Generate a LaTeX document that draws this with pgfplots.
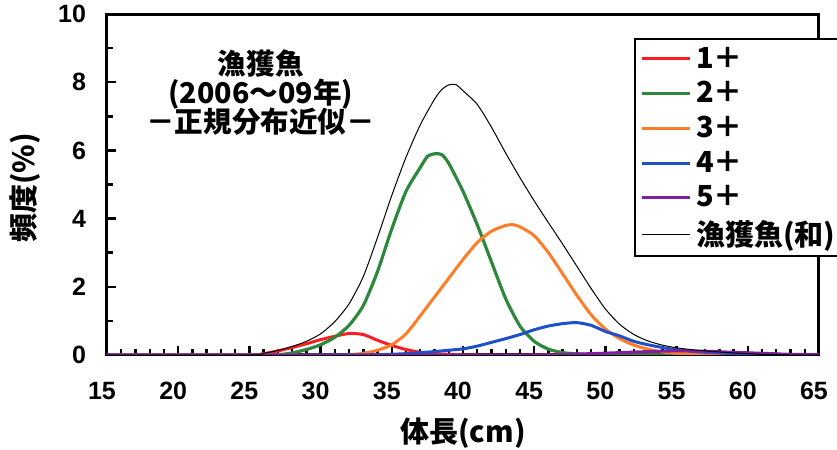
\documentclass[border=0pt]{standalone}
\usepackage{pgfplots}
\pgfplotsset{compat=1.18}
\usepackage{fontspec}
\setmainfont{Liberation Sans}
\newfontfamily\cjk{Noto Sans CJK JP}
\definecolor{cred}{RGB}{250,30,35}
\definecolor{cgreen}{RGB}{45,135,60}
\definecolor{corange}{RGB}{255,125,40}
\definecolor{cblue}{RGB}{30,80,200}
\definecolor{cpurple}{RGB}{130,30,160}
\begin{document}
\begin{tikzpicture}
\path[use as bounding box] (0,0) rectangle (418.5pt,225pt);
\begin{axis}[
  at={(53.5pt,47.5pt)}, anchor=south west,
  scale only axis, width=356pt, height=170.5pt,
  xmin=15, xmax=65, ymin=0, ymax=10,
  xtick={15,20,...,65}, ytick={0,2,...,10},
  minor x tick num=4, minor y tick num=1,
  tick align=inside, xtick pos=bottom, ytick pos=left,
  major tick length=4.5pt, minor tick length=3pt,
  tick style={line width=1.2pt, black},
  axis line style={line width=1.5pt},
  /pgf/number format/assume math mode=true,
  ticklabel style={font=\fontsize{12.5}{14}\selectfont\bfseries},
  xticklabel style={yshift=-10pt, xshift=-2.5pt},
  yticklabel style={xshift=-7pt},
  xlabel={\cjk\bfseries\fontsize{14.5}{16}\selectfont 体長(cm)},
  ylabel={\cjk\bfseries\fontsize{14.5}{16}\selectfont 頻度(\%)},
  every axis x label/.style={at={(rel axis cs:0.5,0)}, yshift=-39pt, anchor=center},
  every axis y label/.style={at={(rel axis cs:0,0.49)}, xshift=-41pt, rotate=90, anchor=center},
  legend style={at={(rel axis cs:0.74,0.93)}, anchor=north west, draw=black, line width=1pt,
    font=\cjk\bfseries\fontsize{14.5}{16}\selectfont, inner xsep=3pt, inner ysep=2.5pt, row sep=2.2pt,
    nodes={inner ysep=1.5pt}, fill=white},
  legend cell align=left,
  legend image code/.code={\draw[#1] (0pt,0pt) -- (24pt,0pt);},
]
\addplot[cred, line width=1.5pt, smooth, tension=0.4] table {
15 0
20 0
25 0
26 0.04
27 0.12
28 0.22
29 0.33
30 0.45
31 0.55
32 0.63
33 0.6
34 0.43
35 0.28
36 0.16
37 0.08
38 0.04
39 0.02
40 0.005
41 0
45 0
50 0
55 0
60 0
65 0
};
\addlegendentry{1＋}
\addplot[cgreen, line width=1.6pt, smooth, tension=0.4] table {
15 0
20 0
25 0
27 0.01
28 0.06
29 0.16
30 0.3
31 0.52
32 0.87
33 1.45
34 2.45
35 3.7
36 4.8
37 5.5
37.5 5.82
38 5.9
38.5 5.88
39 5.62
40 4.8
41 3.82
42 2.73
43 1.65
44 0.85
45 0.4
46 0.17
47 0.07
48 0.03
49 0.01
50 0
55 0
60 0
65 0
};
\addlegendentry{2＋}
\addplot[corange, line width=1.5pt, smooth, tension=0.4] table {
15 0
25 0
31 0
32 0.01
33 0.05
34 0.14
35 0.3
36 0.62
37 1.15
38 1.7
39 2.25
40 2.8
41 3.3
42 3.63
43 3.8
43.5 3.82
44 3.76
45 3.5
46 3.0
47 2.38
48 1.75
49 1.18
50 0.76
51 0.48
52 0.29
53 0.17
54 0.09
55 0.05
56 0.03
57 0.015
58 0.005
59 0
65 0
};
\addlegendentry{3＋}
\addplot[cblue, line width=1.5pt, smooth, tension=0.4] table {
15 0
30 0
34 0.01
36 0.04
37 0.07
38 0.1
39 0.14
40 0.18
41 0.26
42 0.37
43 0.48
44 0.6
45 0.74
46 0.85
47 0.92
48 0.95
49 0.87
50 0.69
51 0.56
52 0.4
53 0.3
54 0.22
55 0.15
56 0.11
57 0.08
58 0.06
59 0.04
60 0.03
61 0.02
62 0.01
63 0
65 0
};
\addlegendentry{4＋}
\addplot[cpurple, line width=1.5pt, smooth, tension=0.4] table {
15 0
45 0
47 0.02
49 0.04
51 0.07
53 0.1
55 0.12
57 0.11
59 0.08
61 0.05
63 0.02
65 0.01
};
\addlegendentry{5＋}
\addplot[black, line width=0.5pt, smooth, tension=0.4] table {
15 0
25 0
26 0.05
27 0.13
28 0.25
29 0.4
30 0.62
31 0.98
32 1.5
33 2.3
34 3.45
35 4.68
36 5.8
37 6.75
38 7.5
38.5 7.78
39 7.92
39.5 7.93
40 7.75
41 7.35
42 6.68
43 5.92
44 5.2
45 4.52
46 3.88
47 3.25
48 2.6
49 1.95
50 1.35
51 0.9
52 0.6
53 0.41
54 0.29
55 0.21
56 0.16
57 0.12
58 0.09
59 0.06
60 0.04
61 0.02
62 0.01
63 0
65 0
};
\addlegendentry{漁獲魚(和)\hspace*{20pt}\mbox{}}
\node[align=center, font=\cjk\bfseries\fontsize{14.3}{15.5}\selectfont] at (rel axis cs:0.216,0.768)
  {漁獲魚\\[-1pt](2006〜09年)\\[-1pt]－正規分布近似－};
\end{axis}
\end{tikzpicture}
\end{document}
